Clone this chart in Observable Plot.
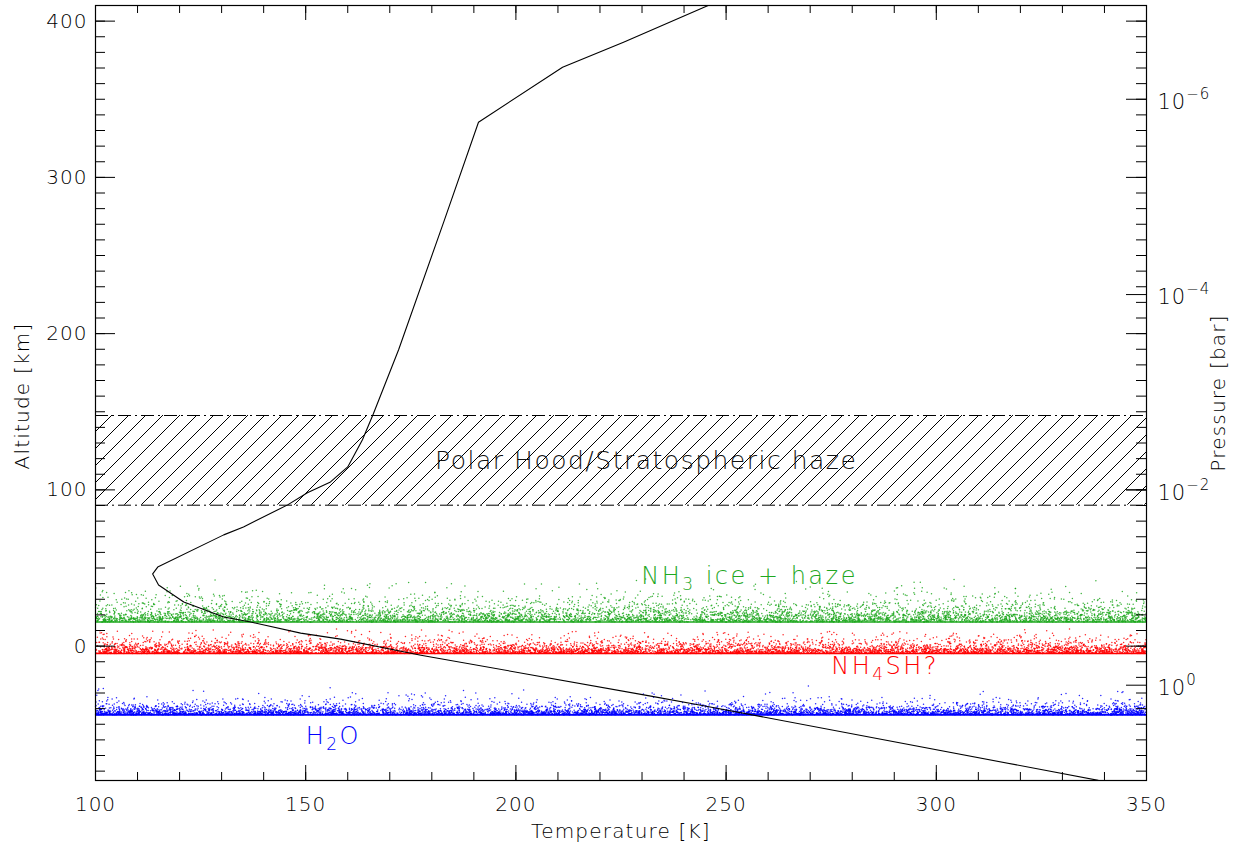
<!DOCTYPE html>
<html><head><meta charset="utf-8">
<script src="https://cdn.jsdelivr.net/npm/d3@7"></script>
<script src="https://cdn.jsdelivr.net/npm/@observablehq/plot@0.6"></script>
<style>body{margin:0;background:#fff}#chart{width:1245px;height:847px}#chart text{font-weight:200}</style>
</head><body><div id="chart"></div>
<script>
// Temperature profile (K) vs altitude (km)
const profileT = [338.5, 244.0, 232.1, 177.4, 158.3, 148.8, 136.9, 130.5, 121.0, 115.0, 113.6, 114.8, 130.5, 135.2, 145.7, 150.4, 155.9, 160.0, 163.5, 166.1, 172.1, 182.8, 191.1, 211.1, 225.6, 246.5];
const profileZ = [-85.9, -37.8, -32.0, -5.8, 4.5, 8.3, 15.4, 18.6, 28.2, 39.1, 46.2, 50.6, 71.2, 76.3, 90.4, 98.1, 105.1, 114.7, 132.1, 148.7, 189.7, 271.2, 335.3, 370.5, 386.5, 410.9];

// Cloud layers
const cloudNames  = ["NH₃ ice + haze", "NH₄SH?", "H₂O"];
const cloudColors = ["#1fa81f", "#ff0000", "#0000ff"];
const cloudBase   = [15.4, -4.7, -44.0];     // km
const cloudScale  = [5.0, 3.0, 2.5];         // km, fall-off of the scatter above the base
const cloudMax    = [28, 16, 20];            // km above base
const cloudCount  = [6000, 6000, 6000];
const labelT      = [229.8, 275.0, 150.0];
const labelZ      = [44.8, -12.8, -57.6];

// Haze band
const hazeBottom = 90.2, hazeTop = 147.6;
const hazeLabel = "Polar Hood/Stratospheric haze";
const hazeLabelT = 231, hazeLabelZ = 118.5;

// Axes
const tDomain = [100, 350];
const zDomain = [-86, 410];
const tTicks = [100, 150, 200, 250, 300, 350];
const zTicks = [0, 100, 200, 300, 400];
const pressureTicks     = [1e-6, 1e-4, 1e-2, 1];
const pressureExponents = ["−6", "−4", "−2", "0"];
const axisTitles = ["Temperature [K]", "Altitude [km]", "Pressure [bar]"];
const altAtOneBar = -25, kmPerDecade = 62.5;
const altOfP = p => altAtOneBar - kmPerDecade * Math.log10(p);

// Scatter texture for the cloud layers (deterministic seed)
const src = d3.randomLcg(0.1234);
const uni = d3.randomUniform.source(src)(tDomain[0], tDomain[1]);
const cloudPts = [];
cloudNames.forEach((n, k) => {
  const ex = d3.randomExponential.source(src)(1 / cloudScale[k]);
  for (let i = 0; i < cloudCount[k]; i++) {
    let h = ex();
    while (h > cloudMax[k]) h = ex();
    cloudPts.push({t: uni(), z: cloudBase[k] + h, c: cloudColors[k]});
  }
});

const profile = profileT.map((t, i) => ({t, z: profileZ[i]}));
const clouds = cloudNames.map((n, i) => ({n, c: cloudColors[i], base: cloudBase[i], lt: labelT[i], lz: labelZ[i]}));

const W = 1245, H = 847, mL = 95, mR = 99, mT = 5, mB = 67;
const pw = W - mL - mR, ph = H - mT - mB;
const minorT = d3.range(100, 351, 10), minorZ = d3.range(-80, 411, 10);

const chart = Plot.plot({
  width: W, height: H,
  marginLeft: mL, marginRight: mR, marginTop: mT, marginBottom: mB,
  style: {fontFamily: "DejaVu Sans", fontSize: "20px", color: "#000", background: "#fff"},
  x: {domain: tDomain},
  y: {domain: zDomain},
  color: {type: "identity"},
  marks: [
    Plot.rect([{t0: tDomain[0], t1: tDomain[1], z0: hazeBottom, z1: hazeTop}], {x1: "t0", x2: "t1", y1: "z0", y2: "z1", fill: "url(#hatch)"}),
    Plot.ruleY([hazeBottom, hazeTop], {stroke: "#000", strokeWidth: 1, strokeDasharray: "13,4,2,4"}),
    Plot.dot(cloudPts, {x: "t", y: "z", fill: "c", r: 0.75, stroke: null, fillOpacity: 0.85}),
    Plot.ruleY(clouds, {y: "base", stroke: "c", strokeWidth: 1.6}),
    Plot.line(profile, {x: "t", y: "z", stroke: "#000", strokeWidth: 1.1, clip: true}),
    Plot.text([hazeLabel], {x: hazeLabelT, y: hazeLabelZ, text: d => d, fontSize: 25, fill: "#111"}),
    Plot.text(clouds, {x: "lt", y: "lz", text: "n", fill: "c", fontSize: 24, textAnchor: "start"}),
    // ticks: bottom / top
    Plot.tickX(minorT, {x: d => d, insetTop: ph - 8, stroke: "#000"}),
    Plot.tickX(tTicks, {x: d => d, insetTop: ph - 15, stroke: "#000"}),
    Plot.tickX(minorT, {x: d => d, insetBottom: ph - 8, stroke: "#000"}),
    Plot.tickX(tTicks, {x: d => d, insetBottom: ph - 15, stroke: "#000"}),
    // ticks: left / right (altitude)
    Plot.tickY(minorZ, {y: d => d, insetRight: pw - 10, stroke: "#000"}),
    Plot.tickY(zTicks, {y: d => d, insetRight: pw - 20, stroke: "#000"}),
    Plot.tickY(minorZ, {y: d => d, insetLeft: pw - 10, stroke: "#000"}),
    Plot.tickY(zTicks, {y: d => d, insetLeft: pw - 20, stroke: "#000"}),
    // pressure ticks
    Plot.tickY(pressureTicks, {y: altOfP, insetLeft: pw - 20, stroke: "#000"}),
    Plot.text(pressureTicks, {y: altOfP, frameAnchor: "right", dx: 11, dy: 3, textAnchor: "start", text: (p, i) => "10^" + pressureExponents[i], fill: "#000", fontSize: 21}),
    Plot.axisX(tTicks, {anchor: "bottom", tickSize: 0, tickPadding: 16, label: null, fill: "#000"}),
    Plot.axisY(zTicks, {anchor: "left", tickSize: 0, tickPadding: 8, label: null, fill: "#000"}),
    Plot.text([axisTitles[0]], {frameAnchor: "bottom", dy: 57, text: d => d, fontSize: 20, fill: "#000"}),
    Plot.text([axisTitles[1]], {frameAnchor: "left", dx: -73, dy: 3, rotate: -90, textAnchor: "middle", text: d => d, fontSize: 20, fill: "#000"}),
    Plot.text([axisTitles[2]], {frameAnchor: "right", dx: 72, dy: 0, rotate: -90, textAnchor: "middle", text: d => d, fontSize: 20, fill: "#000"}),
    Plot.frame({stroke: "#000", strokeWidth: 1.2})
  ]
});

// hatch pattern definition for the haze band
const ns = "http://www.w3.org/2000/svg";
const defs = document.createElementNS(ns, "defs");
defs.innerHTML = '<pattern id="hatch" patternUnits="userSpaceOnUse" width="17" height="17">' +
  '<path d="M-1,18 L18,-1 M-5,4 L4,-5 M13,22 L22,13" stroke="#000" stroke-width="1" fill="none"/></pattern>';
chart.insertBefore(defs, chart.firstChild);

// typographic touches: letter spacing, subscripts, superscripts
const subMap = {"₂": "2", "₃": "3", "₄": "4"};
chart.querySelectorAll("text").forEach(el => {
  const s = el.textContent;
  if (s === hazeLabel) {
    el.style.letterSpacing = "1.5px";
  } else if (cloudNames.includes(s)) {
    el.style.letterSpacing = "2.5px";
    let html = "", opened = 0;
    for (const ch of s) {
      if (subMap[ch]) { html += `<tspan dy="6" font-size="17">${subMap[ch]}</tspan><tspan dy="-6">`; opened++; }
      else html += ch;
    }
    el.innerHTML = html + "</tspan>".repeat(opened);
  } else if (s.includes("^")) {
    const [base, ex] = s.split("^");
    el.style.letterSpacing = "1px";
    el.innerHTML = `${base}<tspan dy="-10" font-size="15">${ex}</tspan>`;
  } else if (axisTitles.includes(s)) {
    el.style.letterSpacing = "1.2px";
  } else {
    el.style.letterSpacing = "1px";
  }
});
document.getElementById("chart").appendChild(chart);
</script>
</body></html>
